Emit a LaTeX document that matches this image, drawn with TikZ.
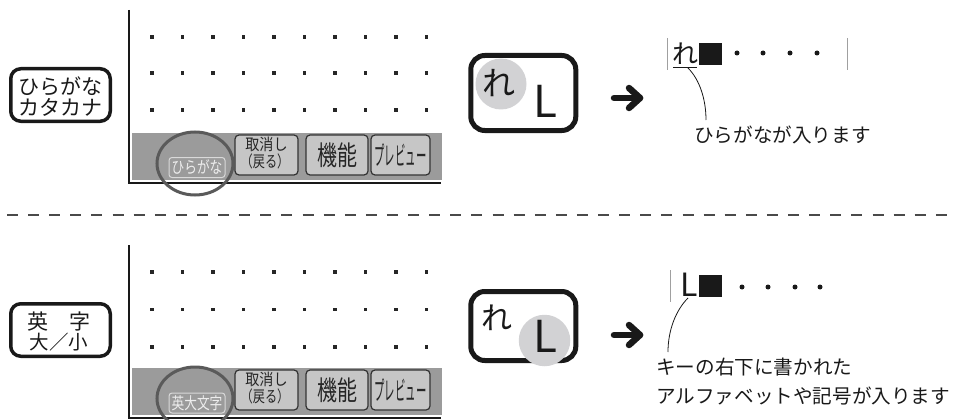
\documentclass[tikz,border=0pt]{standalone}
\usepackage{fontspec}
\setmainfont{Noto Sans CJK JP}
\usepackage{graphicx}
\usetikzlibrary{shapes.geometric}
\definecolor{bargray}{HTML}{9B9B9B}
\definecolor{btnfill}{HTML}{C6C6C6}
\definecolor{circgray}{HTML}{D2D2D4}
\definecolor{ringgray}{HTML}{5A5A5A}
\definecolor{cursorgray}{HTML}{A0A0A0}
\definecolor{dashgray}{HTML}{4A4A4A}
\begin{document}
\begin{tikzpicture}[x=1pt,y=-1pt,
  smallkey/.style={draw=black!90, line width=3.5pt, rounded corners=10pt, minimum width=99.5pt, minimum height=52.5pt, inner sep=0pt, align=center},
  bigkey/.style={draw=black!90, line width=5pt, rounded corners=14pt, minimum width=105pt, inner sep=0pt},
  scrdot/.style={fill=black!85, rectangle, minimum size=3.5pt, inner sep=0pt},
  frameline/.style={line width=2.3pt, black!90},
  bar/.style={fill=bargray, rectangle, minimum width=310pt, minimum height=47pt, inner sep=0pt, anchor=north west},
  btn/.style={draw=black!80, fill=btnfill, line width=1.2pt, rounded corners=4pt, minimum height=40pt, inner sep=0pt, align=center, text=black!85},
  modelabel/.style={draw=white!85!black, fill=bargray, line width=1pt, rounded corners=3pt, minimum width=56pt, minimum height=20pt, inner sep=0pt, text=white!93!black},
  ring/.style={draw=ringgray, line width=3pt, ellipse, minimum width=76pt, minimum height=63pt, inner sep=0pt},
  hilite/.style={fill=circgray, circle, inner sep=0pt},
  glyph/.style={inner sep=0pt, text=black!90},
  bigarrow/.style={line width=6.5pt, black!90, line cap=round, line join=round},
  cursor/.style={line width=0.9pt, cursorgray},
  leader/.style={line width=0.8pt, black!90},
  txtdot/.style={fill=black!90, circle, minimum size=5pt, inner sep=0pt},
  blk/.style={fill=black!90, rectangle, minimum width=23pt, minimum height=22pt, inner sep=0pt},
  note/.style={inner sep=0pt, anchor=west, font=\fontsize{19.6}{28}\selectfont, text=black!90}
]
\useasboundingbox (0,0) rectangle (954,420);

% ================= TOP PANEL =================
\node[smallkey] (k1) at (60.5,95) {};
\node[glyph, font=\fontsize{21}{21}\selectfont] (k1a) at (61,86.5) {ひらがな};
\node[glyph, font=\fontsize{21}{21}\selectfont] (k1b) at (61,107) {カタカナ};

\coordinate (f1t) at (129,10);
\coordinate (f1r) at (441,183);
\draw[frameline] (f1t) |- (f1r);
\foreach \r in {37,73,110} {
  \foreach \i in {0,...,9} {
    \node[scrdot] (da-\r-\i) at ({152+30.5*\i},\r) {};
  }
}
\node[bar] (bar1) at (131.5,133) {};
\node[btn, minimum width=63pt] (c1) at (266.5,155) {};
\node[glyph, text=black!85, font=\fontsize{16}{16}\selectfont] (c1a) at (266.5,144.5) {\scalebox{0.88}[1]{取消し}};
\node[glyph, text=black!85, font=\fontsize{16}{16}\selectfont] (c1b) at (265,161.5) {\scalebox{0.76}[1]{（戻る）}};
\node[btn, minimum width=62pt, font=\fontsize{27}{27}\selectfont] (m1) at (337,155) {\scalebox{0.74}[1]{機能}};
\node[btn, minimum width=59pt, font=\fontsize{26}{26}\selectfont] (p1) at (400.5,155) {\scalebox{0.4}[1]{プレビュー}};
\node[modelabel, font=\fontsize{16.5}{16.5}\selectfont] (l1) at (197,167.5) {\scalebox{0.77}[1]{ひらがな}};
\node[ring] (r1) at (195,163.5) {};

% key
\node[hilite, minimum size=51pt] (h1) at (501,84) {};
\node[bigkey, minimum height=75pt] (K1) at (523.3,93) {};
\node[glyph, font=\fontsize{33}{33}\selectfont] (re1) at (499,83) {れ};
\node[glyph, font=\fontsize{44}{44}\selectfont] (L1) at (545,101) {L};

% arrow
\coordinate (a1s) at (614,98);
\coordinate (a1e) at (640,98);
\draw[bigarrow] (a1s) -- (a1e);
\draw[bigarrow] ([shift={(-11,-10)}]a1e) -- (a1e) -- ([shift={(-11,10)}]a1e);

% result line
\coordinate (cl1a) at (667,38);
\coordinate (cl1b) at (667,70);
\coordinate (cr1a) at (847,38);
\coordinate (cr1b) at (847,70);
\draw[cursor] (cl1a) -- (cl1b);
\draw[cursor] (cr1a) -- (cr1b);
\node[glyph, font=\fontsize{26}{26}\selectfont] (t1) at (685,54) {れ};
\coordinate (u1a) at (673,67.5);
\coordinate (u1b) at (697,67.5);
\draw[line width=1.6pt, black!90] (u1a) -- (u1b);
\node[blk] (s1) at (710.5,54) {};
\foreach \x [count=\k] in {737,763,790,817} {
  \node[txtdot] (td1-\k) at (\x,53) {};
}
\node[note] (n1) at (694,135) {ひらがなが入ります};
\coordinate (ld1a) at (688,68);
\coordinate (ld1b) at (706,120);
\draw[leader] (ld1a) .. controls (700,80) and (706,100) .. (ld1b);

% ================= DASHED SEPARATOR =================
\coordinate (sepL) at (7,215);
\coordinate (sepR) at (947,215);
\draw[dashgray, line width=2pt, dash pattern=on 11pt off 10.11pt] (sepL) -- (sepR);

% ================= BOTTOM PANEL =================
\node[smallkey] (k2) at (60.5,330) {};
\node[glyph, font=\fontsize{21}{21}\selectfont] (k2a) at (59,321.5) {英　字};
\node[glyph, font=\fontsize{19.5}{19.5}\selectfont] (k2b) at (59,342) {大／小};

\coordinate (f2t) at (129,245);
\coordinate (f2r) at (441,418);
\draw[frameline] (f2t) |- (f2r);
\foreach \r in {272,309.5,347} {
  \foreach \i in {0,...,9} {
    \node[scrdot] (db-\r-\i) at ({152+30.5*\i},\r) {};
  }
}
\node[bar] (bar2) at (131.5,368) {};
\node[btn, minimum width=63pt] (c2) at (266.5,390) {};
\node[glyph, text=black!85, font=\fontsize{16}{16}\selectfont] (c2a) at (266.5,379.5) {\scalebox{0.88}[1]{取消し}};
\node[glyph, text=black!85, font=\fontsize{16}{16}\selectfont] (c2b) at (265,396.5) {\scalebox{0.76}[1]{（戻る）}};
\node[btn, minimum width=62pt, font=\fontsize{27}{27}\selectfont] (m2) at (337,390) {\scalebox{0.74}[1]{機能}};
\node[btn, minimum width=59pt, font=\fontsize{26}{26}\selectfont] (p2) at (400.5,390) {\scalebox{0.4}[1]{プレビュー}};
\node[modelabel, font=\fontsize{16.5}{16.5}\selectfont] (l2) at (197,403) {\scalebox{0.77}[1]{英大文字}};
\node[ring] (r2) at (195,398.5) {};

% key
\node[bigkey, minimum height=69pt] (K2) at (523.3,326) {};
\node[hilite, minimum size=51.5pt] (h2) at (544.5,340.5) {};
\node[glyph, font=\fontsize{31}{31}\selectfont] (re2) at (497,318) {れ};
\node[glyph, font=\fontsize{44}{44}\selectfont] (L2) at (545,336) {L};

% arrow
\coordinate (a2s) at (614,335);
\coordinate (a2e) at (640,335);
\draw[bigarrow] (a2s) -- (a2e);
\draw[bigarrow] ([shift={(-11,-10)}]a2e) -- (a2e) -- ([shift={(-11,10)}]a2e);

% result line
\coordinate (cl2a) at (670,270);
\coordinate (cl2b) at (670,302);
\draw[cursor] (cl2a) -- (cl2b);
\node[glyph, font=\fontsize{32}{32}\selectfont] (t2) at (689.5,285) {L};
\node[blk] (s2) at (710.5,286) {};
\foreach \x [count=\k] in {742,768,795,820} {
  \node[txtdot] (td2-\k) at (\x,287) {};
}
\node[note] (n2a) at (656,367) {キーの右下に書かれた};
\node[note] (n2b) at (656,396) {アルファベットや記号が入ります};
\coordinate (ld2a) at (688,298);
\coordinate (ld2b) at (668,352);
\draw[leader] (ld2a) .. controls (676,310) and (668,330) .. (ld2b);
\end{tikzpicture}
\end{document}
